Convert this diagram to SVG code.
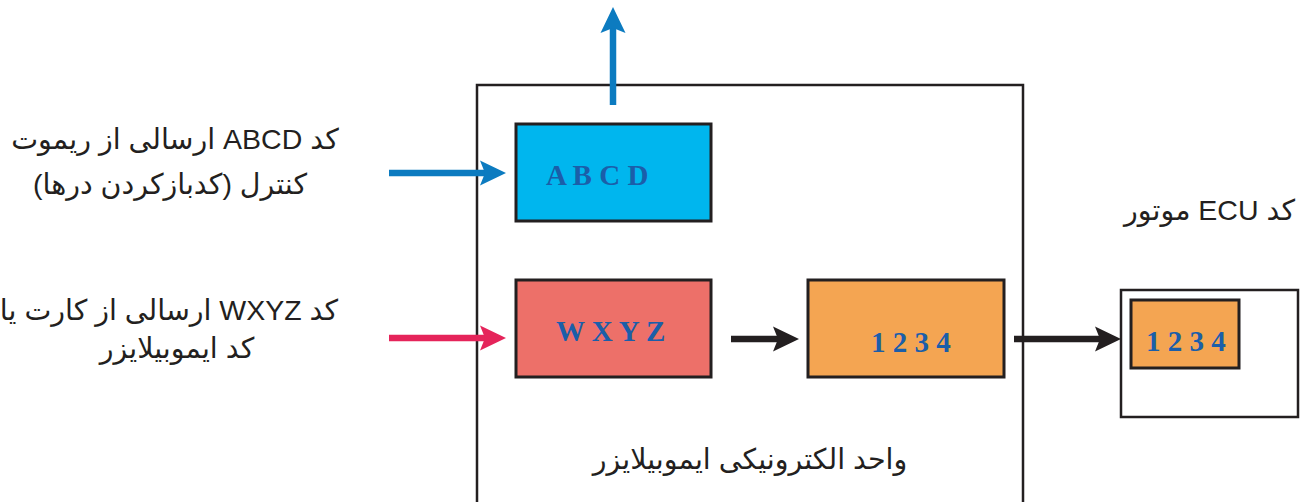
<svg xmlns="http://www.w3.org/2000/svg" width="1311" height="502" viewBox="0 0 1311 502">
  <style>
    .frame { fill: #ffffff; stroke: #231f20; stroke-width: 2.5; }
    .box { stroke: #231f20; stroke-width: 3; }
    .code { font-family: "Liberation Serif", "Times New Roman", serif; font-weight: bold; font-size: 29px; fill: #1b5ea9; }
    .label { font-family: "Liberation Sans", "DejaVu Sans", "Noto Sans", sans-serif; font-size: 28.5px; fill: #231f20; }
    .shaft { fill: none; stroke-width: 6.5; }
  </style>
  <defs>
    <marker id="head-blue" markerUnits="userSpaceOnUse" markerWidth="27" markerHeight="26" refX="16" refY="12.5" orient="auto" overflow="visible">
      <path d="M0,0 L26,12.5 L0,25 L5,12.5 Z" fill="#0c7bc0"/>
    </marker>
    <marker id="head-red" markerUnits="userSpaceOnUse" markerWidth="27" markerHeight="26" refX="16" refY="12.5" orient="auto" overflow="visible">
      <path d="M0,0 L26,12.5 L0,25 L5,12.5 Z" fill="#e5245a"/>
    </marker>
    <marker id="head-black" markerUnits="userSpaceOnUse" markerWidth="27" markerHeight="26" refX="16" refY="12.5" orient="auto" overflow="visible">
      <path d="M0,0 L26,12.5 L0,25 L5,12.5 Z" fill="#231f20"/>
    </marker>
  </defs>

  <!-- immobilizer control unit frame -->
  <g id="immobilizer-unit">
    <rect class="frame" x="477" y="85" width="546" height="440"/>
    <text class="label" x="750" y="469" text-anchor="middle" direction="rtl">واحد الکترونیکی ایموبیلایزر</text>
  </g>

  <g id="abcd">
    <rect class="box" x="516" y="124" width="195" height="97" fill="#00b6ee"/>
    <text class="code" x="546" y="185">A B C D</text>
  </g>

  <g id="wxyz">
    <rect class="box" x="516" y="280" width="195" height="97" fill="#ed7069"/>
    <text class="code" x="556" y="341">W X Y Z</text>
  </g>

  <g id="code-1234">
    <rect class="box" x="808" y="280" width="196" height="97" fill="#f4a552"/>
    <text class="code" x="871" y="352">1 2 3 4</text>
  </g>

  <!-- engine ECU -->
  <g id="ecu">
    <rect class="frame" x="1121" y="290" width="177" height="127"/>
    <rect class="box" x="1131" y="300" width="108" height="68" fill="#f4a552" stroke-width="2.5"/>
    <text class="code" x="1146" y="351">1 2 3 4</text>
    <text class="label" x="1295" y="220" text-anchor="start" direction="rtl">کد ECU موتور</text>
  </g>

  <g id="remote-label">
    <text class="label" x="175" y="149" text-anchor="middle" direction="rtl">کد ABCD ارسالی از ریموت</text>
    <text class="label" x="170" y="194" text-anchor="middle" direction="rtl">کنترل (کدبازکردن درها)</text>
  </g>

  <g id="card-label">
    <text class="label" x="169" y="320" text-anchor="middle" direction="rtl">کد WXYZ ارسالی از کارت یا</text>
    <text class="label" x="177" y="358" text-anchor="middle" direction="rtl">کد ایموبیلایزر</text>
  </g>

  <!-- connectors -->
  <g id="connectors">
    <line class="shaft" x1="613" y1="105" x2="613" y2="17" stroke="#0c7bc0" marker-end="url(#head-blue)"/>
    <line class="shaft" x1="389" y1="173" x2="496" y2="173" stroke="#0c7bc0" marker-end="url(#head-blue)"/>
    <line class="shaft" x1="389" y1="338" x2="496" y2="338" stroke="#e5245a" marker-end="url(#head-red)"/>
    <line class="shaft" x1="731" y1="339" x2="789" y2="339" stroke="#231f20" marker-end="url(#head-black)"/>
    <line class="shaft" x1="1014" y1="339" x2="1111" y2="339" stroke="#231f20" marker-end="url(#head-black)"/>
  </g>
</svg>
